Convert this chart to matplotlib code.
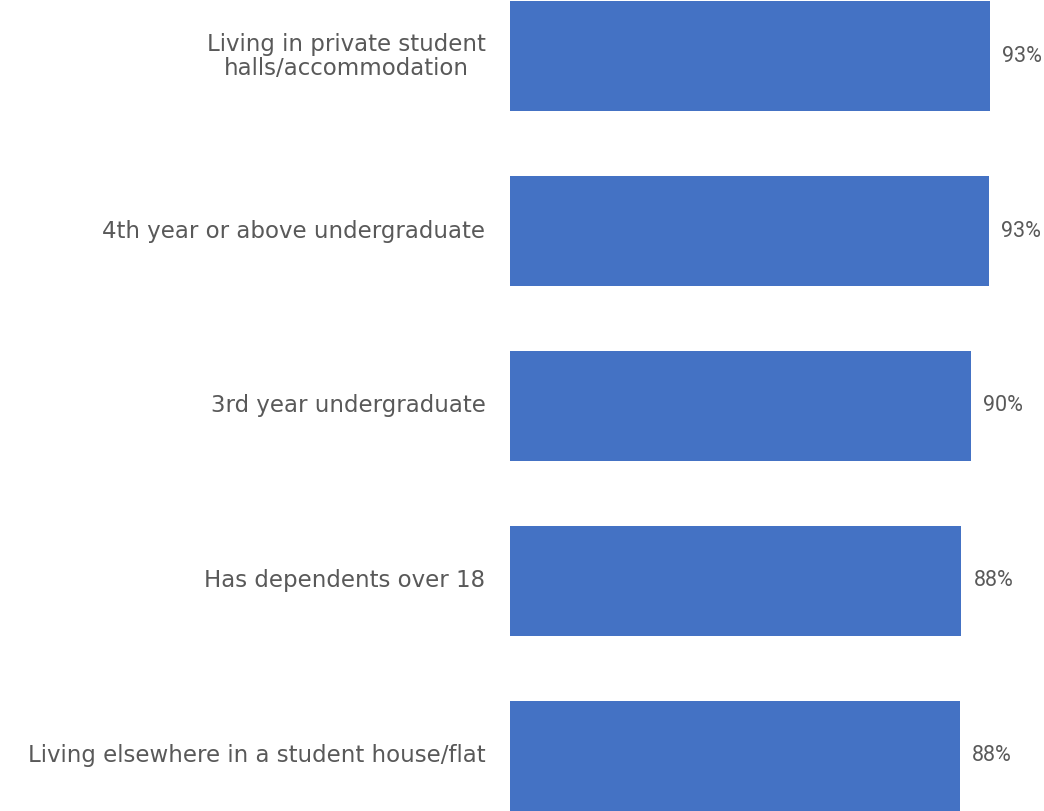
import matplotlib
matplotlib.use("Agg")
import matplotlib.pyplot as plt
from matplotlib.transforms import offset_copy

categories = [
    "Living in private student\nhalls/accommodation",
    "4th year or above undergraduate",
    "3rd year undergraduate",
    "Has dependents over 18",
    "Living elsewhere in a student house/flat",
]
shares = [93.4, 93.2, 89.7, 87.9, 87.6]

W, H = 1044, 811
fig = plt.figure(figsize=(W / 100, H / 100), dpi=100)
ax = fig.add_axes([509.5 / W, 0.0, 514.1 / W, 1.0])

bar_h = 0.629
pos = list(range(len(categories)))
ax.barh(pos, shares, height=bar_h, color="#4472C4", edgecolor="none")
ax.set_xlim(0, 100)
ax.set_ylim(len(categories) - 1 + bar_h / 2 + 0.002, -bar_h / 2 - 0.007)
ax.axis("off")

lab_tr = offset_copy(ax.transData, fig=fig, x=-24, y=0, units="dots")
val_tr = offset_copy(ax.transData, fig=fig, x=12, y=0, units="dots")
for y, (cat, v) in enumerate(zip(categories, shares)):
    ax.text(0, y, cat, transform=lab_tr, ha="right", va="center",
            multialignment="center", fontsize=16.5, color="#595959",
            family="DejaVu Sans", linespacing=1.07)
    ax.text(v, y, f"{v:.0f}%", transform=val_tr, ha="left", va="center",
            fontsize=15.5, color="#595959", family="Roboto")

fig.savefig("out.png", dpi=100)
